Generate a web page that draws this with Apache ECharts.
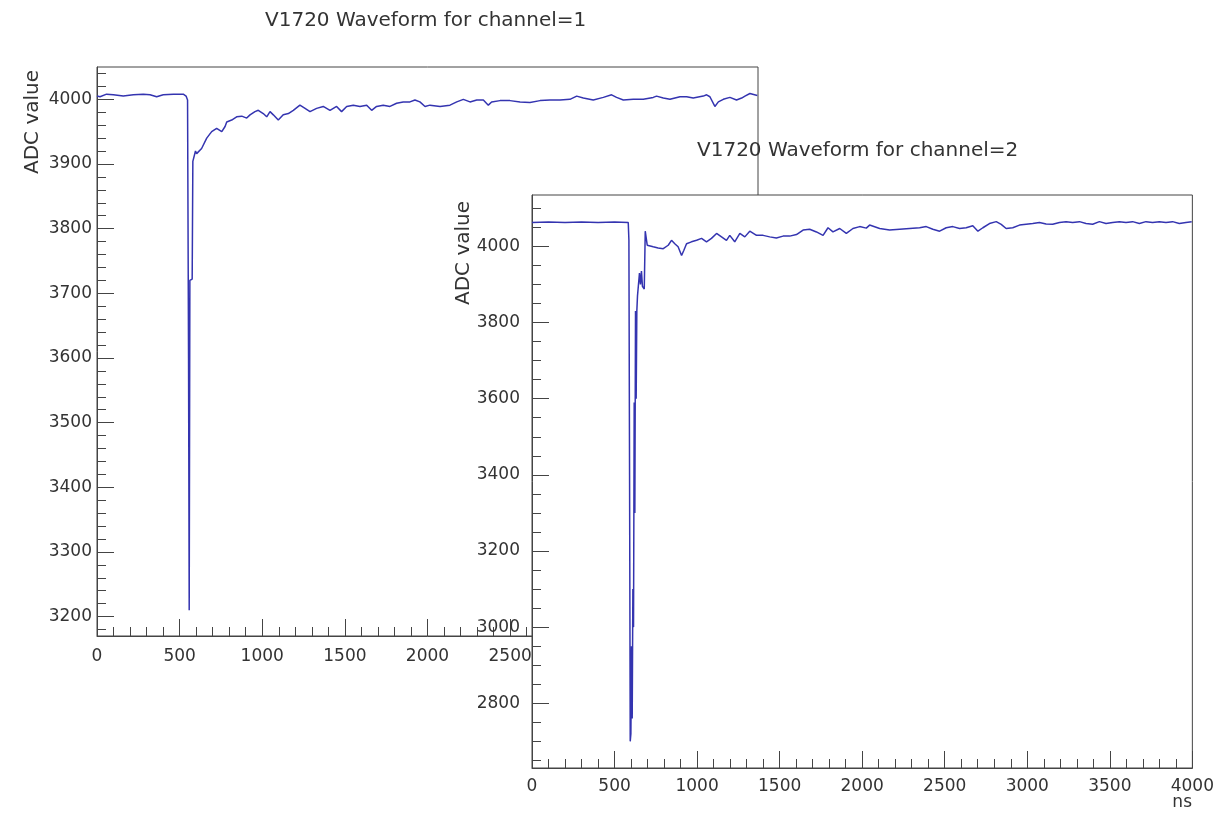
<!DOCTYPE html>
<html>
<head>
<meta charset="utf-8">
<title>V1720 Waveform</title>
<script src="https://cdn.jsdelivr.net/npm/echarts@6/dist/echarts.min.js"></script>
<style>
    html, body { margin: 0; padding: 0; background: #fff; }
    #main { width: 1217px; height: 813px; }
</style>
</head>
<body>
<div id="main"></div>
<script>
// channel 1 waveform, time in ns, ADC counts
var ch1Time = [0, 18, 58, 99, 159, 220, 280, 321, 361, 401, 462, 522, 539, 548, 554, 558, 562, 576, 580, 588,
    596, 603, 633, 664, 694, 724, 755, 775, 785, 815, 845, 876, 906, 926, 956, 976, 1006, 1027, 1047, 1067,
    1097, 1127, 1158, 1188, 1228, 1259, 1289, 1329, 1369, 1410, 1450, 1480, 1511, 1551, 1591, 1632, 1662, 1692, 1732, 1773,
    1813, 1853, 1894, 1924, 1954, 1985, 2015, 2076, 2136, 2177, 2217, 2257, 2298, 2338, 2368, 2388, 2439, 2499, 2560, 2620,
    2681, 2741, 2802, 2862, 2903, 2943, 3003, 3064, 3114, 3144, 3185, 3245, 3306, 3366, 3386, 3427, 3467, 3528, 3568, 3608,
    3669, 3689, 3709, 3739, 3760, 3790, 3830, 3870, 3901, 3921, 3951, 3996];
var ch1Adc = [4005, 4004, 4008, 4007, 4005, 4007, 4008, 4007, 4004, 4007, 4008, 4008, 4005, 3999, 3600, 3210, 3720, 3722, 3904, 3906,
    3920, 3916, 3924, 3940, 3950, 3955, 3950, 3958, 3965, 3968, 3973, 3974, 3971, 3976, 3981, 3983, 3978, 3973, 3981, 3976,
    3968, 3976, 3978, 3983, 3991, 3986, 3981, 3986, 3989, 3983, 3989, 3981, 3989, 3991, 3989, 3991, 3983, 3989, 3991, 3989,
    3994, 3996, 3996, 3999, 3996, 3989, 3991, 3989, 3991, 3996, 4000, 3996, 3999, 3999, 3991, 3996, 3998, 3998, 3996, 3995,
    3998, 3999, 3999, 4000, 4005, 4002, 3999, 4003, 4007, 4003, 3999, 4000, 4000, 4003, 4005, 4002, 4000, 4004, 4004, 4002,
    4005, 4007, 4004, 3989, 3996, 4000, 4003, 3999, 4002, 4005, 4009, 4006];

// channel 2 waveform
var ch2Time = [0, 100, 200, 300, 400, 500, 583, 587, 591, 595, 599, 603, 607, 611, 615, 619, 623, 627, 631, 635,
    639, 645, 651, 657, 663, 669, 675, 680, 686, 692, 698, 704, 734, 764, 795, 825, 845, 865, 885, 906,
    920, 936, 966, 997, 1027, 1057, 1087, 1118, 1148, 1178, 1198, 1228, 1259, 1289, 1319, 1360, 1400, 1440, 1480, 1521,
    1561, 1602, 1642, 1682, 1723, 1763, 1793, 1823, 1864, 1904, 1944, 1985, 2025, 2045, 2106, 2166, 2227, 2287, 2348, 2388,
    2428, 2469, 2509, 2549, 2590, 2630, 2670, 2701, 2731, 2771, 2812, 2842, 2872, 2912, 2953, 2993, 3033, 3074, 3114, 3154,
    3195, 3235, 3275, 3316, 3356, 3396, 3437, 3477, 3517, 3558, 3598, 3638, 3679, 3719, 3759, 3800, 3840, 3880, 3921, 3961, 3996];
var ch2Adc = [4063, 4064, 4063, 4064, 4063, 4064, 4063, 4016, 3400, 2700, 2720, 2950, 2760, 3100, 3000, 3590, 3300, 3830, 3600, 3830,
    3870, 3870, 3930, 3900, 3935, 3895, 3890, 3888, 4040, 4035, 4003, 4007, 3999, 3996, 3994, 4003, 4016, 4007, 3999, 3976,
    3990, 4007, 4012, 4016, 4021, 4012, 4021, 4034, 4025, 4016, 4029, 4012, 4034, 4025, 4040, 4029, 4029, 4025, 4022, 4027,
    4027, 4031, 4043, 4045, 4038, 4029, 4049, 4038, 4047, 4034, 4047, 4052, 4048, 4056, 4047, 4043, 4045, 4047, 4049, 4052,
    4045, 4040, 4049, 4052, 4047, 4049, 4054, 4040, 4049, 4060, 4065, 4058, 4047, 4049, 4056, 4058, 4060, 4063, 4059, 4058,
    4063, 4065, 4063, 4065, 4060, 4058, 4065, 4060, 4063, 4065, 4063, 4065, 4060, 4065, 4063, 4065, 4063, 4065, 4060, 4063, 4065];

// tick labels
var xTicks = [0, 500, 1000, 1500, 2000, 2500, 3000, 3500, 4000];
var ch1YTicks = [3200, 3300, 3400, 3500, 3600, 3700, 3800, 3900, 4000];
var ch2YTicks = [2800, 3000, 3200, 3400, 3600, 3800, 4000];

var font = '"DejaVu Sans", sans-serif';
var frameColor = '#444';
var textColor = '#333';
var waveColor = '#3434b0';

function steps(from, to, step) {
    var out = [];
    for (var v = from; v <= to; v += step) out.push(v);
    return out;
}

function pairs(t, v) {
    var out = [];
    for (var i = 0; i < t.length; i++) out.push([t[i], v[i]]);
    return out;
}

// major axis with labels
function majorAxis(grid, pos, min, max, ticks, margin, z) {
    return {
        type: 'value', gridIndex: grid, position: pos, min: min, max: max, z: z,
        axisLine: { show: true, lineStyle: { color: frameColor, width: 1 } },
        axisTick: { show: true, inside: true, length: 17, customValues: ticks,
            lineStyle: { color: frameColor, width: 1 } },
        axisLabel: { customValues: ticks, margin: margin, color: textColor,
            fontSize: 17, fontFamily: font,
            formatter: function (v) { return String(v); } },
        splitLine: { show: false }
    };
}

// second axis on the same side, just for the small ticks
function minorAxis(grid, pos, min, max, ticks, z) {
    return {
        type: 'value', gridIndex: grid, position: pos, offset: 0, min: min, max: max, z: z,
        axisLine: { show: false },
        axisTick: { show: true, inside: true, length: 9, customValues: ticks,
            lineStyle: { color: frameColor, width: 1 } },
        axisLabel: { show: false },
        splitLine: { show: false }
    };
}

var chart = echarts.init(document.getElementById('main'));

chart.setOption({
    animation: false,
    backgroundColor: '#fff',
    title: [{
        text: 'V1720 Waveform for channel=1',
        left: 265, top: 11, padding: 0,
        textStyle: { fontFamily: font, fontSize: 20, fontWeight: 'normal', color: textColor }
    }, {
        text: 'V1720 Waveform for channel=2',
        left: 697, top: 141, padding: 0, z: 2,
        textStyle: { fontFamily: font, fontSize: 20, fontWeight: 'normal', color: textColor }
    }],
    grid: [
        { left: 97, top: 67, width: 661, height: 569, show: true, backgroundColor: '#fff',
            borderColor: frameColor, borderWidth: 1, z: 0 },
        { left: 532, top: 195, width: 661, height: 573, show: true, backgroundColor: '#fff',
            borderColor: frameColor, borderWidth: 1, z: 3 }
    ],
    xAxis: [
        majorAxis(0, 'bottom', 0, 4000, xTicks, 12, 1),
        minorAxis(0, 'bottom', 0, 4000, steps(0, 4000, 100), 1),
        majorAxis(1, 'bottom', 0, 4000, xTicks, 10, 4),
        minorAxis(1, 'bottom', 0, 4000, steps(0, 4000, 100), 4)
    ],
    yAxis: [
        majorAxis(0, 'left', 3170, 4050, ch1YTicks, 5, 1),
        minorAxis(0, 'left', 3170, 4050, steps(3180, 4040, 20), 1),
        majorAxis(1, 'left', 2630, 4135, ch2YTicks, 12, 4),
        minorAxis(1, 'left', 2630, 4135, steps(2650, 4100, 50), 4)
    ],
    graphic: [
        { type: 'text', x: 33, y: 122, rotation: Math.PI / 2, z: 1,
            style: { text: 'ADC value', font: '20px ' + font, fill: textColor,
                align: 'center', verticalAlign: 'middle' } },
        { type: 'text', x: 464, y: 253, rotation: Math.PI / 2, z: 10,
            style: { text: 'ADC value', font: '20px ' + font, fill: textColor,
                align: 'center', verticalAlign: 'middle' } },
        { type: 'text', x: 1192, y: 794, z: 10,
            style: { text: 'ns', font: '17px ' + font, fill: textColor,
                align: 'right', verticalAlign: 'top' } }
    ],
    series: [{
        name: 'channel=1',
        type: 'line',
        xAxisIndex: 0, yAxisIndex: 0,
        showSymbol: false,
        z: 2,
        lineStyle: { color: waveColor, width: 1.5 },
        data: pairs(ch1Time, ch1Adc)
    }, {
        name: 'channel=2',
        type: 'line',
        xAxisIndex: 2, yAxisIndex: 2,
        showSymbol: false,
        z: 5,
        lineStyle: { color: waveColor, width: 1.5 },
        data: pairs(ch2Time, ch2Adc)
    }]
});
</script>
</body>
</html>
